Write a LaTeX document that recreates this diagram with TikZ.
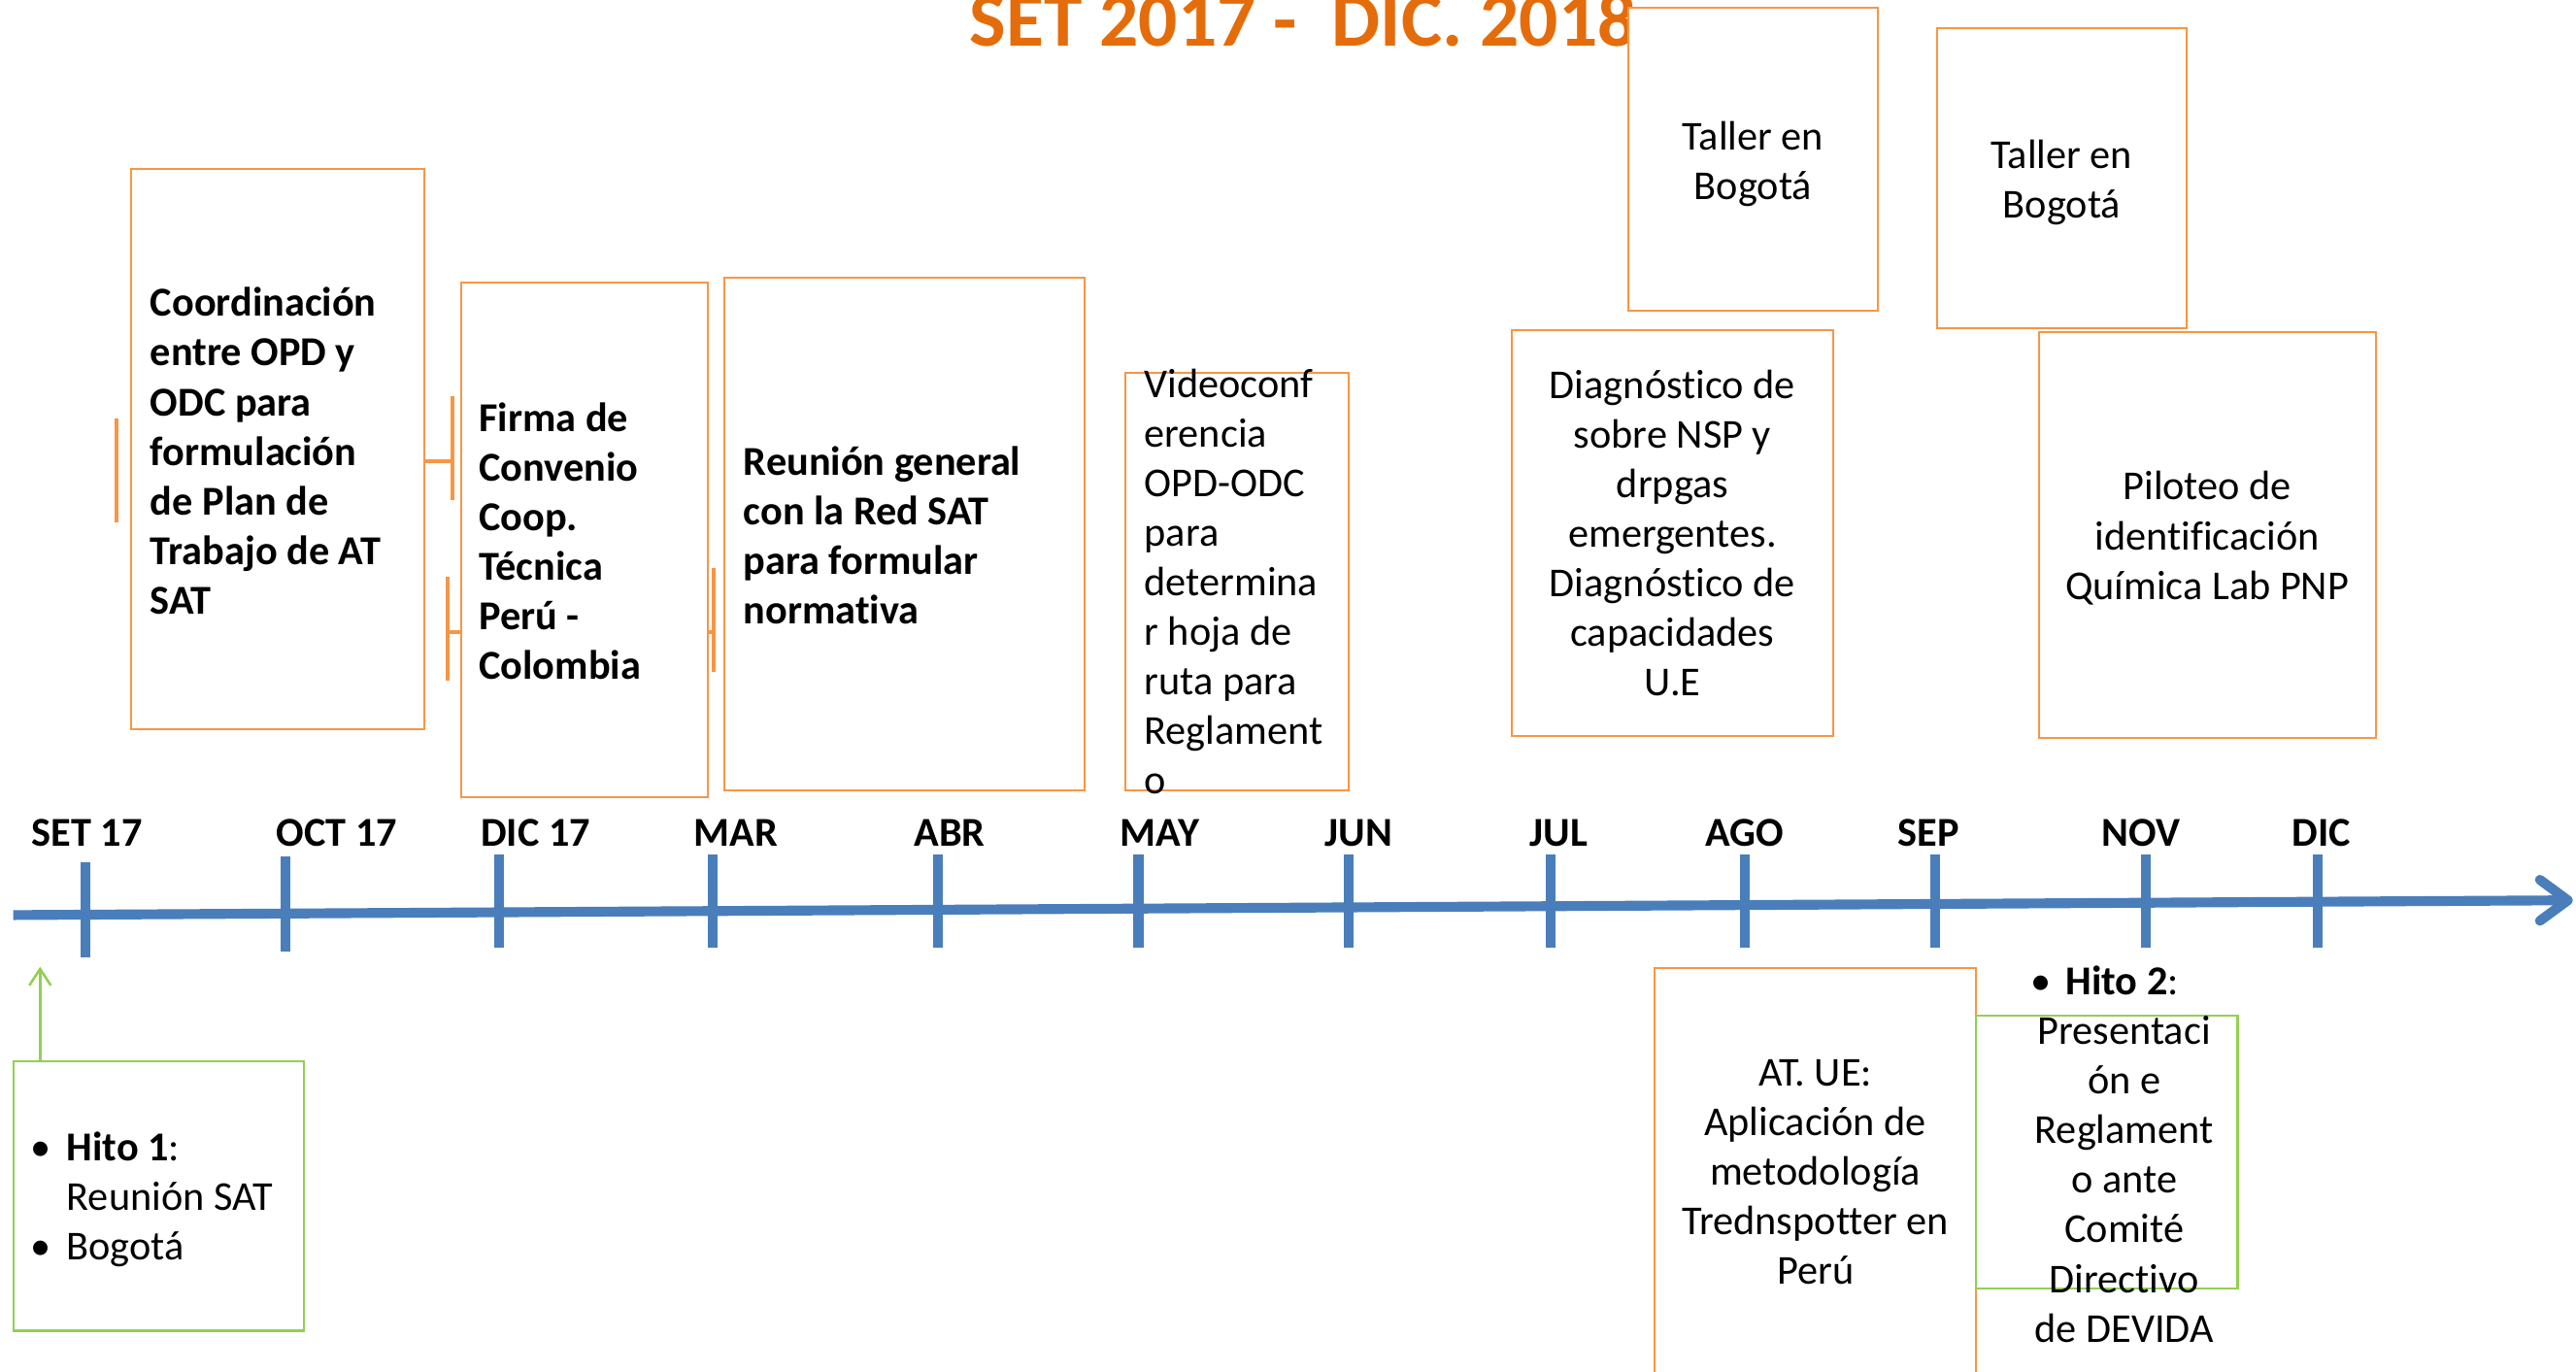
\documentclass[tikz,border=0pt]{standalone}
\usepackage{fontspec}
\setmainfont{Carlito}[Ligatures=NoCommon]
\usetikzlibrary{arrows.meta}
\definecolor{boxor}{HTML}{F79646}
\definecolor{titleor}{HTML}{E46C0A}
\definecolor{tlblue}{HTML}{4A7EBB}
\definecolor{hgreen}{HTML}{92D050}
\begin{document}
\begin{tikzpicture}[x=1pt,y=-1pt,
  box/.style={draw=boxor, line width=1.2pt, fill=white, inner sep=0pt},
  gbox/.style={draw=hgreen, line width=1.2pt, inner sep=0pt},
  txt/.style={font=\fontsize{25}{30.2}\selectfont, inner sep=0pt, text=black},
  btxt/.style={font=\fontsize{25}{30.2}\selectfont\bfseries, inner sep=0pt, text=black},
  lbl/.style={font=\fontsize{25}{30}\selectfont\bfseries, inner sep=0pt, anchor=base},
  tl/.style={draw=tlblue, line width=6pt},
  brk/.style={draw=boxor, line width=2.4pt},
  garrow/.style={draw=hgreen, line width=1.5pt, -{Straight Barb[length=10pt,width=13pt]}}
]
\useasboundingbox (0,0) rectangle (1568,835);

% title
\node[font=\fontsize{47}{50}\selectfont\bfseries, text=titleor, anchor=base west, inner sep=0pt] (title) at (590,28) {SET 2017 -~ DIC. 2018};

% upper boxes
\node[box, minimum width=178pt, minimum height=341pt] (coord) at (169,273.5) {};
\node[box, minimum width=150pt, minimum height=313pt] (firma) at (356,328.5) {};
\node[box, minimum width=219pt, minimum height=312pt] (reun) at (550.5,325) {};
\node[box, minimum width=136pt, minimum height=254pt] (video) at (753,354) {};
\node[box, minimum width=196pt, minimum height=247pt] (diag) at (1018,324.5) {};
\node[box, minimum width=152pt, minimum height=184pt] (taller1) at (1067,97) {};
\node[box, minimum width=152pt, minimum height=183pt] (taller2) at (1255,108.5) {};
\node[box, minimum width=205pt, minimum height=247pt] (pil) at (1343.5,325.5) {};

% texts
\node[btxt, anchor=west, align=left] at ([xshift=12pt,yshift=-1pt]coord.west) {Coordinación\\entre OPD y\\ODC para\\formulación\\de Plan de\\Trabajo de AT\\SAT};
\node[btxt, anchor=west, align=left] at ([xshift=11pt,yshift=-1pt]firma.west) {Firma de\\Convenio\\Coop.\\Técnica\\Perú -\\Colombia};
\node[btxt, anchor=west, align=left] at ([xshift=12pt,yshift=-1pt]reun.west) {Reunión general\\con la Red SAT\\para formular\\normativa};
\node[txt, anchor=west, align=left] at ([xshift=12pt]video.west) {Videoconf\\erencia\\OPD-ODC\\para\\determina\\r hoja de\\ruta para\\Reglament\\o};
\node[txt, align=center] at (diag.center) {Diagnóstico de\\sobre NSP y\\drpgas\\emergentes.\\Diagnóstico de\\capacidades\\U.E};
\node[txt, align=center] at ([yshift=-3pt]taller1.center) {Taller en\\Bogotá};
\node[txt, align=center] at ([yshift=-2.5pt]taller2.center) {Taller en\\Bogotá};
\node[txt, align=center] at ([yshift=-2pt]pil.center) {Piloteo de\\identificación\\Química Lab PNP};

% brackets
\draw[brk] (71,255) -- (71,318);
\draw[brk] (coord.east |- 0,280.7) -- (275.2,280.7);
\draw[brk] (275.2,241) -- (275.2,304.5);
\draw[brk] (272.5,351) -- (272.5,414.6);
\draw[brk] (272.5,385) -- (firma.west |- 0,385);
\draw[brk] (firma.east |- 0,385) -- (434.5,385);
\draw[brk] (434.5,345.5) -- (434.5,409);

% timeline
\coordinate (tlstart) at (8,557);
\coordinate (tlend) at (1563,548);
\draw[tl] (tlstart) -- (tlend);
\draw[tl, line cap=round, line join=round] ([shift={(-17,-12.5)}]tlend) -- (tlend) -- ([shift={(-17,12.5)}]tlend);
\foreach \tx/\ta/\tb/\lx/\l in {52/525/583/53/SET 17, 174/521/579/205/OCT 17, 304/520/577/326/DIC 17, 434/520/577/448/MAR, 571/520/577/578/ABR, 693/520/577/706/MAY, 821/520/577/827/JUN, 944/520/577/949/JUL, 1062/520/577/1062/AGO, 1178/520/577/1174/SEP, 1306/520/577/1303/NOV, 1411/520/577/1413/DIC}
{ \draw[tl] (\tx,\ta) -- (\tx,\tb); \node[lbl] at (\lx,515) {\l}; }

% lower boxes
\node[box, minimum width=196pt, minimum height=249pt] (atue) at (1105,713.5) {};
\node[txt, align=center] at (atue.center) {AT. UE:\\Aplicación de\\metodología\\Trednspotter en\\Perú};
\node[gbox, minimum width=159pt, minimum height=166pt] (hito2) at (1282.5,701) {};
\node[txt, align=center] at ([xshift=10.5pt,yshift=-1.5pt]hito2.center) {\makebox[114pt][l]{•\hspace{9pt}\textbf{Hito 2}:}\\Presentaci\\ón e\\Reglament\\o ante\\Comité\\Directivo\\de DEVIDA};

\node[gbox, minimum width=177pt, minimum height=164pt] (hito1) at (96.5,728) {};
\node[txt, anchor=west, align=left] at ([xshift=11pt,yshift=-2pt]hito1.west) {\makebox[22pt][l]{•}\textbf{Hito 1}:\\\hspace*{22pt}Reunión SAT\\\makebox[22pt][l]{•}Bogotá};
\draw[garrow] ([xshift=17pt]hito1.north west) -- ++(0,-57);
\end{tikzpicture}
\end{document}
